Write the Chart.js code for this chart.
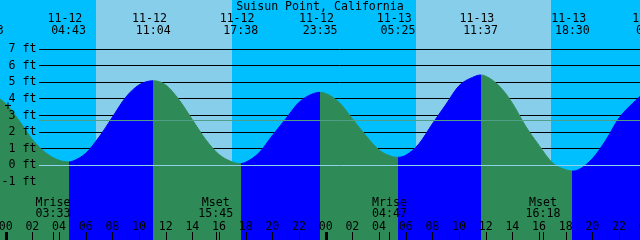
<!DOCTYPE html>
<html>
<head>
<meta charset="utf-8">
<script src="https://cdn.jsdelivr.net/npm/chart.js@4/dist/chart.umd.min.js"></script>
<style>
  html, body { margin: 0; padding: 0; background: #00bfff; }
  canvas { display: block; }
</style>
</head>
<body>
<canvas id="tideChart" width="640" height="240"></canvas>
<script>
const stationName = "Suisun Point, California";

// hours counted from 11-12 00:00, heights in feet
const tideHours = [-1.45, -1, 0, 1, 2, 3, 4, 4.72, 5, 6, 7, 8, 9, 10, 11.07,
  12, 13, 14, 15, 16, 17, 17.63, 18, 19, 20, 21, 22, 23, 23.58,
  24, 25, 26, 27, 28, 29, 29.42, 30, 31, 32, 33, 34, 35, 35.62,
  36, 37, 38, 39, 40, 41, 42, 42.5, 43, 44, 45, 46, 47, 48, 48.58];
const tideHeights = [4.3, 4.25, 3.72, 2.7, 1.55, 0.75, 0.3, 0.2, 0.24, 0.72, 1.7, 2.9, 4.1, 4.85, 5.1,
  4.85, 3.95, 2.75, 1.55, 0.65, 0.2, 0.1, 0.18, 0.75, 1.8, 2.8, 3.8, 4.3, 4.4,
  4.33, 3.8, 2.8, 1.8, 0.92, 0.52, 0.48, 0.6, 1.3, 2.5, 3.65, 4.8, 5.3, 5.45,
  5.38, 4.8, 3.75, 2.35, 1.2, 0.15, -0.27, -0.35, -0.25, 0.4, 1.5, 2.85, 3.72, 4.39, 4.5];

const extremeDates = ["11-11", "11-12", "11-12", "11-12", "11-12", "11-13", "11-13", "11-13", "11-14"];
const extremeTimes = ["22:33", "04:43", "11:04", "17:38", "23:35", "05:25", "11:37", "18:30", "00:35"];

const moonNames = ["Mrise", "Mset", "Mrise", "Mset"];
const moonDates = ["11-12", "11-12", "11-13", "11-13"];
const moonTimes = ["03:33", "15:45", "04:47", "16:18"];

const sunDates = ["11-12", "11-13"];
const sunriseTimes = ["06:46", "06:46"];
const sunsetTimes = ["16:58", "16:55"];

const heightTicks = [-1, 0, 1, 2, 3, 4, 5, 6, 7];
const hourLabels = ["00", "02", "04", "06", "08", "10", "12", "14", "16", "18", "20", "22"];
const meanLevel = 2.73;

const FONT = '11.6px "DejaVu Sans Mono"';
const riseColor = "#0000ff";
const fallColor = "#2e8b57";

function toHours(date, time) {
  const day = parseInt(date.split("-")[1], 10);
  const [hh, mm] = time.split(":").map(Number);
  return (day - 12) * 24 + hh + mm / 60;
}

function heightAt(hour) {
  let best = 0;
  tideHours.forEach((h, i) => {
    if (Math.abs(h - hour) < Math.abs(tideHours[best] - hour)) best = i;
  });
  return tideHeights[best];
}

// flood (blue) / ebb (green) bands with hard edges at each high and low
function waterColor(c) {
  const chart = c.chart;
  const xs = chart.scales.x;
  if (!chart.chartArea || !xs) return fallColor;
  const w = chart.width;
  const g = chart.ctx.createLinearGradient(0, 0, w, 0);
  const hrs = extremeDates.map((d, i) => toHours(d, extremeTimes[i]));
  const clamp = v => Math.min(1, Math.max(0, v));
  for (let i = 0; i < hrs.length - 1; i++) {
    const col = heightAt(hrs[i + 1]) > heightAt(hrs[i]) ? riseColor : fallColor;
    g.addColorStop(clamp(xs.getPixelForValue(hrs[i]) / w), col);
    g.addColorStop(clamp(xs.getPixelForValue(hrs[i + 1]) / w), col);
  }
  return g;
}

const tidePlot = {
  id: "tidePlot",
  beforeDatasetsDraw(chart) {
    const ctx = chart.ctx;
    const xs = chart.scales.x, ys = chart.scales.y;
    ctx.save();
    // night sky
    ctx.fillStyle = "#00bfff";
    ctx.fillRect(0, 0, chart.width, chart.height);
    // daylight
    ctx.fillStyle = "#87ceeb";
    sunDates.forEach((d, i) => {
      const x1 = Math.round(xs.getPixelForValue(toHours(d, sunriseTimes[i])));
      const x2 = Math.round(xs.getPixelForValue(toHours(d, sunsetTimes[i])));
      ctx.fillRect(x1, 0, x2 - x1, chart.height);
    });
    // grid lines, hidden by the water
    ctx.strokeStyle = "#000";
    ctx.lineWidth = 1;
    heightTicks.forEach(v => {
      const y = Math.floor(ys.getPixelForValue(v)) + 0.5;
      ctx.beginPath();
      ctx.moveTo(39, y);
      ctx.lineTo(chart.width, y);
      ctx.stroke();
    });
    ctx.restore();
  },
  afterDatasetsDraw(chart) {
    const ctx = chart.ctx;
    const xs = chart.scales.x, ys = chart.scales.y;
    ctx.save();
    // mean and datum lines
    let y = Math.floor(ys.getPixelForValue(meanLevel)) + 0.5;
    ctx.strokeStyle = "#4f9f86";
    ctx.beginPath(); ctx.moveTo(39, y); ctx.lineTo(chart.width, y); ctx.stroke();
    y = Math.floor(ys.getPixelForValue(0)) + 0.5;
    ctx.strokeStyle = "#8fd3ea";
    ctx.beginPath(); ctx.moveTo(39, y); ctx.lineTo(chart.width, y); ctx.stroke();

    ctx.fillStyle = "#000";
    ctx.font = FONT;

    // height labels
    ctx.textAlign = "right";
    ctx.textBaseline = "alphabetic";
    heightTicks.forEach(v => {
      const ly = ys.getPixelForValue(v);
      ctx.fillText(v + " ft", 36.5, ly + 3);
    });

    // title
    ctx.textAlign = "center";
    ctx.fillText(stationName, 320, 9.5);

    // high / low times
    extremeDates.forEach((d, i) => {
      const x = xs.getPixelForValue(toHours(d, extremeTimes[i]));
      ctx.fillText(d, x - 3.7, 21.5);
      ctx.fillText(extremeTimes[i], x, 34.3);
    });

    // moon rise / set
    moonNames.forEach((n, i) => {
      const x = xs.getPixelForValue(toHours(moonDates[i], moonTimes[i]));
      ctx.fillText(n, x, 206.3);
      ctx.fillText(moonTimes[i], x, 216.8);
      ctx.fillRect(Math.round(x), 232, 1, 8);
    });

    // hour ticks
    for (let h = 0; h <= 48; h += 2) {
      const x = xs.getPixelForValue(h);
      ctx.fillText(hourLabels[(h / 2) % 12], x, 230.3);
      if (h % 24 === 0) ctx.fillRect(Math.round(x) - 1, 232, 3, 8);
      else ctx.fillRect(Math.round(x), 232, 1, 8);
    }

    ctx.fillText("+", 8, 109.5);
    ctx.restore();
  }
};

new Chart(document.getElementById("tideChart"), {
  type: "line",
  data: {
    datasets: [{
      data: tideHours.map((h, i) => ({ x: h, y: tideHeights[i] })),
      fill: "start",
      backgroundColor: waterColor,
      borderColor: waterColor,
      borderWidth: 1,
      pointRadius: 0,
      cubicInterpolationMode: "monotone"
    }]
  },
  options: {
    responsive: false,
    animation: false,
    events: [],
    layout: { padding: 0 },
    plugins: { legend: { display: false }, tooltip: { enabled: false }, title: { display: false } },
    scales: {
      x: { type: "linear", min: -0.4275, max: 47.5725, display: false },
      y: { type: "linear", min: -4.51, max: 9.975, display: false }
    }
  },
  plugins: [tidePlot]
});
</script>
</body>
</html>
